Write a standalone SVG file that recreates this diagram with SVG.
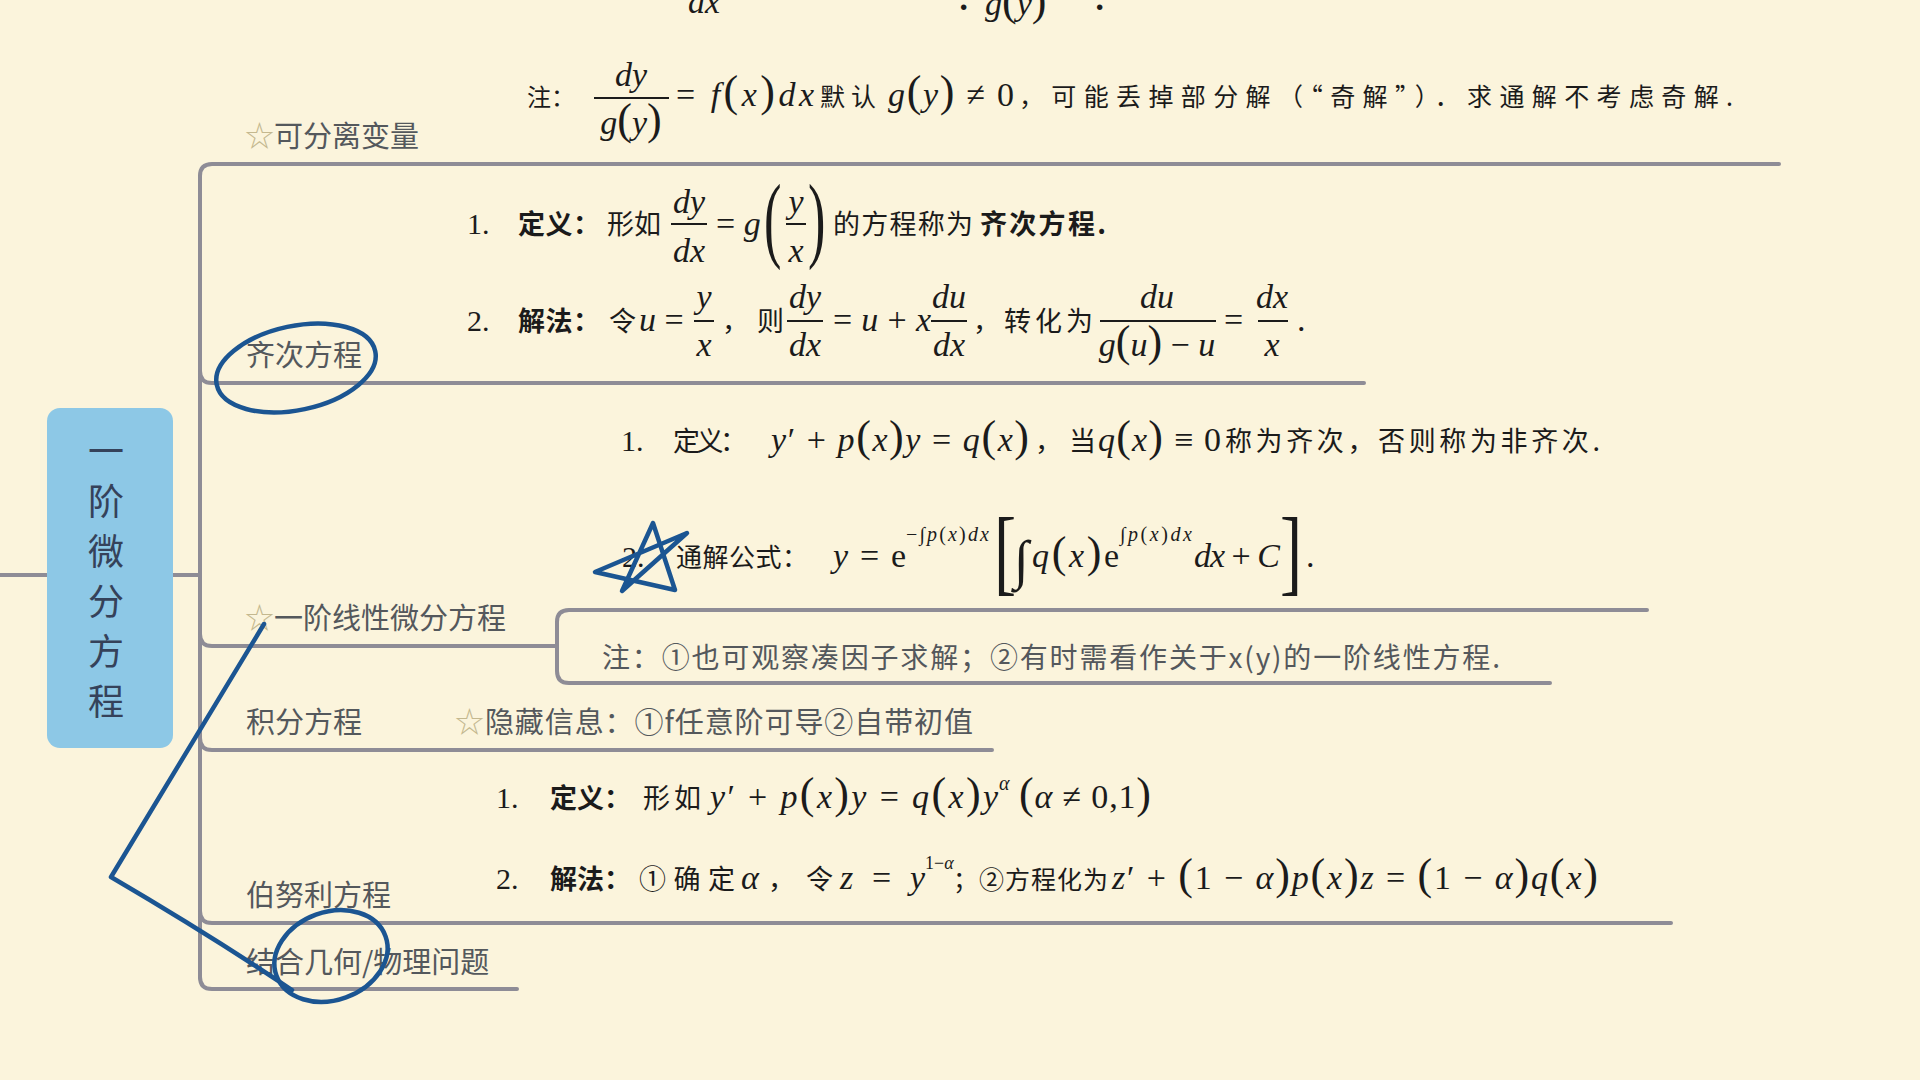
<svg xmlns="http://www.w3.org/2000/svg" width="1920" height="1080" viewBox="0 0 1920 1080">
<defs>
<style>
.conn{fill:none;stroke:#8e8c96;stroke-width:4;stroke-linecap:round}
.lbl{font-family:"Noto Sans CJK SC","Noto Sans",sans-serif;font-size:29px;fill:#54585c}
.st{fill:#c4b88f}
.m{font-family:"Liberation Serif","DejaVu Serif",serif;font-size:34px;fill:#1b1b1b}
.i{font-style:italic}
.p{font-size:44px;font-style:normal}
.cn{font-family:"Noto Sans CJK SC",sans-serif;font-size:27px;fill:#1b1b1b}
.b{font-weight:bold}
.bar{stroke:#1b1b1b;stroke-width:2}
.sup{font-size:20px}
.ink{fill:none;stroke:#1b5592;stroke-width:4.5;stroke-linecap:round;stroke-linejoin:round}
.root{font-family:"Noto Sans CJK SC",sans-serif;font-size:36px;fill:#35425a}
</style>
</defs>
<rect width="1920" height="1080" fill="#FBF4DC"/>

<g id="connectors">
<path class="conn" d="M0,575 H47"/>
<path class="conn" d="M173,575 H200"/>
<path class="conn" d="M200,176 V978"/>
<path class="conn" d="M200,176 Q200,164 212,164 H1779"/>
<path class="conn" d="M200,371 Q200,383 212,383 H1364"/>
<path class="conn" d="M200,634 Q200,646 212,646 H557"/>
<path class="conn" d="M1647,610 H569 Q557,610 557,622 V671 Q557,683 569,683 H1550"/>
<path class="conn" d="M200,738 Q200,750 212,750 H992"/>
<path class="conn" d="M200,911 Q200,923 212,923 H1671"/>
<path class="conn" d="M200,977 Q200,989 212,989 H517"/>
</g>

<g id="root">
<rect x="47" y="408" width="126" height="340" rx="13" fill="#8DC8E6"/>
<text class="root" x="106" y="465" text-anchor="middle">一</text>
<text class="root" x="106" y="515" text-anchor="middle">阶</text>
<text class="root" x="106" y="565" text-anchor="middle">微</text>
<text class="root" x="106" y="615" text-anchor="middle">分</text>
<text class="root" x="106" y="665" text-anchor="middle">方</text>
<text class="root" x="106" y="715" text-anchor="middle">程</text>
</g>

<g id="top-partial">
<text class="m i" x="688" y="13">dx</text>
<text class="m b" x="958" y="18">·</text>
<text class="m" x="985" y="15"><tspan class="i">g</tspan><tspan class="p">(</tspan><tspan class="i">y</tspan><tspan class="p">)</tspan></text>
<text class="m b" x="1094" y="18">·</text>
</g>

<g id="node-separable">
<text class="lbl" x="245" y="147"><tspan class="st">☆</tspan>可分离变量</text>
</g>
<g id="detail-separable">
<text class="cn" x="527" y="106" style="font-size:24px">注：</text>
<text class="m i" x="631" y="86" text-anchor="middle">dy</text>
<line class="bar" x1="594" y1="98" x2="669" y2="98"/>
<text class="m" x="631" y="134" text-anchor="middle"><tspan class="i">g</tspan><tspan class="p">(</tspan><tspan class="i">y</tspan><tspan class="p">)</tspan></text>
<text class="m" x="676" y="106" textLength="138">= <tspan class="i">f</tspan><tspan class="p">(</tspan><tspan class="i">x</tspan><tspan class="p">)</tspan><tspan class="i">dx</tspan></text>
<text class="cn" x="820" y="106" style="font-size:25px" textLength="56">默认</text>
<text class="m" x="888" y="106" textLength="126"><tspan class="i">g</tspan><tspan class="p">(</tspan><tspan class="i">y</tspan><tspan class="p">)</tspan> ≠ 0</text>
<text class="cn" x="1019" y="106" style="font-size:25px" textLength="714">，可能丢掉部分解（“奇解”）．求通解不考虑奇解.</text>
</g>

<g id="node-homogeneous">
<text class="lbl" x="246" y="366">齐次方程</text>
</g>
<g id="detail-homogeneous">
<text class="m" x="467" y="234" style="font-size:30px">1.</text>
<text class="cn b" x="518" y="234" textLength="82">定义：</text>
<text class="cn" x="607" y="234" textLength="54">形如</text>
<text class="m i" x="689" y="213" text-anchor="middle">dy</text>
<line class="bar" x1="671" y1="224" x2="707" y2="224"/>
<text class="m i" x="689" y="262" text-anchor="middle">dx</text>
<text class="m" x="716" y="235">= <tspan class="i">g</tspan></text>
<text class="m" style="font-size:95px" transform="translate(764,250) scale(0.55,1)">(</text>
<text class="m i" x="796" y="213" text-anchor="middle">y</text>
<line class="bar" x1="786" y1="224" x2="806" y2="224"/>
<text class="m i" x="796" y="262" text-anchor="middle">x</text>
<text class="m" style="font-size:95px" transform="translate(808,250) scale(0.55,1)">)</text>
<text class="cn" x="833" y="234" textLength="140">的方程称为</text>
<text class="cn b" x="980" y="234" textLength="126">齐次方程.</text>

<text class="m" x="467" y="331" style="font-size:30px">2.</text>
<text class="cn b" x="518" y="331" textLength="82">解法：</text>
<text class="cn" x="609" y="331">令</text>
<text class="m" x="639" y="331"><tspan class="i">u</tspan> =</text>
<text class="m i" x="704" y="308" text-anchor="middle">y</text>
<line class="bar" x1="694" y1="321" x2="714" y2="321"/>
<text class="m i" x="704" y="356" text-anchor="middle">x</text>
<text class="cn" x="722" y="331" textLength="62">，则</text>
<text class="m i" x="805" y="308" text-anchor="middle">dy</text>
<line class="bar" x1="787" y1="321" x2="823" y2="321"/>
<text class="m i" x="805" y="356" text-anchor="middle">dx</text>
<text class="m" x="833" y="331" textLength="98">= <tspan class="i">u</tspan> + <tspan class="i">x</tspan></text>
<text class="m i" x="949" y="308" text-anchor="middle">du</text>
<line class="bar" x1="931" y1="321" x2="967" y2="321"/>
<text class="m i" x="949" y="356" text-anchor="middle">dx</text>
<text class="cn" x="973" y="331" textLength="120">，转化为</text>
<text class="m i" x="1157" y="308" text-anchor="middle">du</text>
<line class="bar" x1="1100" y1="321" x2="1216" y2="321"/>
<text class="m" x="1157" y="356" text-anchor="middle"><tspan class="i">g</tspan><tspan class="p">(</tspan><tspan class="i">u</tspan><tspan class="p">)</tspan> − <tspan class="i">u</tspan></text>
<text class="m" x="1224" y="331">=</text>
<text class="m i" x="1272" y="308" text-anchor="middle">dx</text>
<line class="bar" x1="1258" y1="321" x2="1288" y2="321"/>
<text class="m i" x="1272" y="356" text-anchor="middle">x</text>
<text class="m" x="1297" y="331">.</text>
</g>

<g id="node-linear">
<text class="lbl" x="245" y="629"><tspan class="st">☆</tspan>一阶线性微分方程</text>
</g>
<g id="detail-linear">
<text class="m" x="621" y="451" style="font-size:30px">1.</text>
<text class="cn" x="673" y="451" textLength="74">定义：</text>
<text class="m" x="771" y="451" textLength="258"><tspan class="i">y</tspan>′ + <tspan class="i">p</tspan><tspan class="p">(</tspan><tspan class="i">x</tspan><tspan class="p">)</tspan><tspan class="i">y</tspan> = <tspan class="i">q</tspan><tspan class="p">(</tspan><tspan class="i">x</tspan><tspan class="p">)</tspan></text>
<text class="cn" x="1035" y="451" textLength="61">，当</text>
<text class="m" x="1098" y="451" textLength="123"><tspan class="i">q</tspan><tspan class="p">(</tspan><tspan class="i">x</tspan><tspan class="p">)</tspan> ≡ 0</text>
<text class="cn" x="1225" y="451" textLength="375">称为齐次，否则称为非齐次.</text>

<text class="m" x="622" y="567" style="font-size:30px">2.</text>
<text class="cn" x="676" y="567" style="font-size:26px" textLength="132">通解公式：</text>
<text class="m" x="833" y="567" textLength="73"><tspan class="i">y</tspan> = e</text>
<text class="m sup" x="906" y="541" textLength="83">−∫<tspan class="i">p</tspan>(<tspan class="i">x</tspan>)<tspan class="i">dx</tspan></text>
<text class="m" style="font-size:95px" transform="translate(994,583) scale(0.7,1)">[</text>
<text class="m" x="1014" y="578" style="font-size:54px">∫</text>
<text class="m" x="1032" y="567" textLength="87"><tspan class="i">q</tspan><tspan class="p">(</tspan><tspan class="i">x</tspan><tspan class="p">)</tspan>e</text>
<text class="m sup" x="1120" y="541" textLength="72">∫<tspan class="i">p</tspan>(<tspan class="i">x</tspan>)<tspan class="i">dx</tspan></text>
<text class="m" x="1194" y="567" textLength="86"><tspan class="i">dx</tspan> + <tspan class="i">C</tspan></text>
<text class="m" style="font-size:95px" transform="translate(1280,583) scale(0.7,1)">]</text>
<text class="m" x="1306" y="567">.</text>
</g>
<g id="note-linear">
<text class="lbl" x="602" y="668" style="font-size:28px" textLength="898">注：①也可观察凑因子求解；②有时需看作关于x(y)的一阶线性方程.</text>
</g>

<g id="node-integral">
<text class="lbl" x="246" y="733">积分方程</text>
</g>
<g id="note-integral">
<text class="lbl" x="455" y="733" textLength="518"><tspan class="st">☆</tspan>隐藏信息：①f任意阶可导②自带初值</text>
</g>

<g id="node-bernoulli">
<text class="lbl" x="246" y="906">伯努利方程</text>
</g>
<g id="detail-bernoulli">
<text class="m" x="496" y="808" style="font-size:30px">1.</text>
<text class="cn b" x="550" y="808" textLength="81">定义：</text>
<text class="cn" x="643" y="808" textLength="58">形如</text>
<text class="m" x="710" y="808" textLength="288"><tspan class="i">y</tspan>′ + <tspan class="i">p</tspan><tspan class="p">(</tspan><tspan class="i">x</tspan><tspan class="p">)</tspan><tspan class="i">y</tspan> = <tspan class="i">q</tspan><tspan class="p">(</tspan><tspan class="i">x</tspan><tspan class="p">)</tspan><tspan class="i">y</tspan></text>
<text class="m sup i" x="999" y="790">α</text>
<text class="m" x="1019" y="808" textLength="132"><tspan class="p">(</tspan><tspan class="i">α</tspan> ≠ 0,1<tspan class="p">)</tspan></text>

<text class="m" x="496" y="889" style="font-size:30px">2.</text>
<text class="cn b" x="550" y="889" textLength="81">解法：</text>
<text class="cn" x="639" y="889" textLength="96">①确定</text>
<text class="m i" x="741" y="889">α</text>
<text class="cn" x="768" y="889" textLength="65">，令</text>
<text class="m" x="840" y="889" textLength="85"><tspan class="i">z</tspan> = <tspan class="i">y</tspan></text>
<text class="m" x="925" y="869" style="font-size:18px">1−<tspan class="i">α</tspan></text>
<text class="cn" x="953" y="889" style="font-size:25px" textLength="155">；②方程化为</text>
<text class="m" x="1112" y="889" textLength="486"><tspan class="i">z</tspan>′ + <tspan class="p">(</tspan>1 − <tspan class="i">α</tspan><tspan class="p">)</tspan><tspan class="i">p</tspan><tspan class="p">(</tspan><tspan class="i">x</tspan><tspan class="p">)</tspan><tspan class="i">z</tspan> = <tspan class="p">(</tspan>1 − <tspan class="i">α</tspan><tspan class="p">)</tspan><tspan class="i">q</tspan><tspan class="p">(</tspan><tspan class="i">x</tspan><tspan class="p">)</tspan></text>
</g>

<g id="node-geometry">
<text class="lbl" x="246" y="973">结合几何/物理问题</text>
</g>

<g id="annotations">
<ellipse class="ink" cx="296" cy="368" rx="81" ry="42" transform="rotate(-12 296 368)"/>
<path class="ink" d="M653,523 L622,591 L687,533 L595,572 L675,590 Z"/>
<path class="ink" d="M264,624 Q200,730 111,877 Q210,935 292,990"/>
<ellipse class="ink" cx="331" cy="956" rx="58" ry="44" transform="rotate(-20 331 956)"/>
</g>
</svg>
